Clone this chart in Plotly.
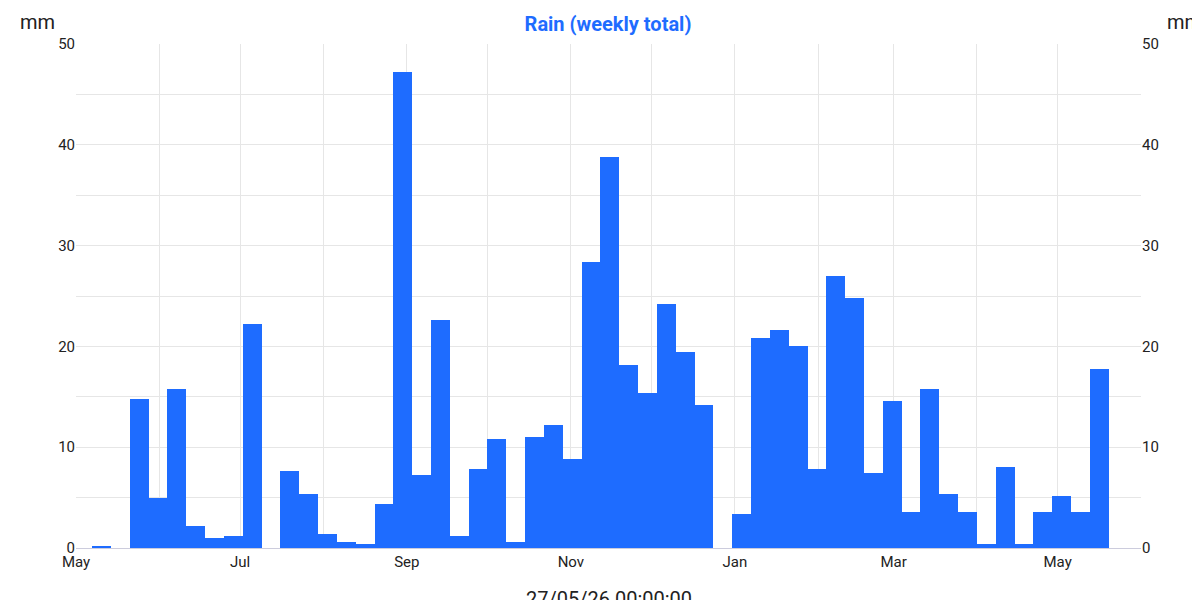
import plotly.graph_objects as go
import pandas as pd

start = "2025-05-07"
rain = [0.2,0,14.8,5,15.8,2.2,1,1.2,22.2,0,
        7.6,5.4,1.4,0.6,0.4,4.4,47.2,7.2,22.6,1.2,
        7.8,10.8,0.6,11,12.2,8.8,28.4,38.8,18.2,15.4,
        24.2,19.4,14.2,0,3.4,20.8,21.6,20,7.8,27,
        24.8,7.4,14.6,3.6,15.8,5.4,3.6,0.4,8,0.4,
        3.6,5.2,3.6,17.8]
weeks = pd.date_range(start, periods=len(rain), freq="7D")
week_ms = 7*24*3600*1000
color = "#1e6cff"

fig = go.Figure()
fig.add_bar(x=weeks, y=rain, width=week_ms, offset=0, marker=dict(color=color, line=dict(width=0)), hoverinfo="x+y")
fig.add_scatter(x=[weeks[0]], y=[0], yaxis="y2", mode="markers", marker=dict(opacity=0), showlegend=False, hoverinfo="skip")

grid = "#e6e6e6"
pw, ph = 1065, 504
fig.update_layout(
    width=1200, height=600, showlegend=False, bargap=0,
    plot_bgcolor="white", paper_bgcolor="white",
    font=dict(family="Roboto", size=15, color="#222"),
    margin=dict(l=68, r=67, t=36, b=60, autoexpand=False),
    title=dict(text="<b>Rain (weekly total)</b>", x=0.5, y=0.985, yanchor="top", font=dict(size=20, color=color)),
    xaxis=dict(type="date", range=["2025-05-01", "2026-06-01"], dtick="M2", tick0="2025-05-01",
               tickformat="%b", showgrid=True, gridcolor=grid, ticks="", showline=True, linecolor="#ccd",
               automargin=False, minor=dict(dtick="M1", showgrid=True, gridcolor=grid)),
    yaxis=dict(range=[0, 50], dtick=10, gridcolor=grid, zeroline=False, ticks="", automargin=False,
               minor=dict(dtick=5, showgrid=True, gridcolor=grid)),
    yaxis2=dict(range=[0, 50], dtick=10, overlaying="y", side="right", showgrid=False, zeroline=False, automargin=False),
    annotations=[
        dict(text="mm", xref="paper", yref="paper", x=-58/pw, y=1+22/ph, xanchor="left", yanchor="middle", showarrow=False, font=dict(size=20)),
        dict(text="mm", xref="paper", yref="paper", x=1+43/pw, y=1+22/ph, xanchor="center", yanchor="middle", showarrow=False, font=dict(size=20)),
        dict(text="27/05/26 00:00:00", xref="paper", yref="paper", x=0.5, y=-51/ph, xanchor="center", yanchor="middle", showarrow=False, font=dict(size=20)),
    ],
)
fig.write_html("out.html")
